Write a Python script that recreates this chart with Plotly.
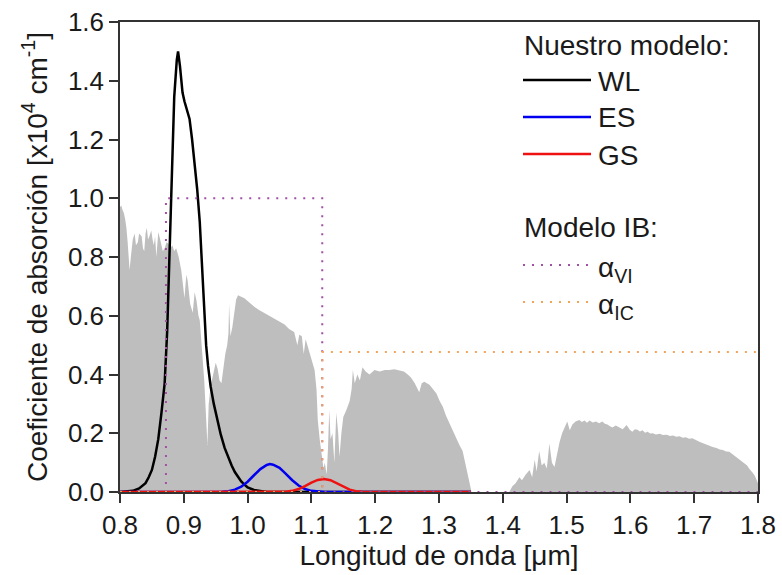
import plotly.graph_objects as go

# ---------------- data ----------------
gray_wl = [0.800, 0.802, 0.804, 0.806, 0.808, 0.810, 0.812, 0.813, 0.815, 0.817, 0.818, 0.820,
           0.823, 0.825, 0.828, 0.830, 0.834, 0.836, 0.838, 0.840, 0.842, 0.844, 0.846, 0.849,
           0.851, 0.853, 0.855, 0.857, 0.860, 0.862, 0.864, 0.867, 0.870, 0.873, 0.876, 0.879,
           0.882, 0.885, 0.888, 0.892, 0.894, 0.896, 0.899, 0.901, 0.904, 0.906, 0.910, 0.914,
           0.917, 0.920, 0.923, 0.925, 0.928, 0.930, 0.932, 0.935, 0.937, 0.939, 0.942, 0.946,
           0.950, 0.953, 0.956, 0.959, 0.962, 0.965, 0.968, 0.970, 0.971, 0.973, 0.976, 0.979,
           0.982, 0.985, 0.990, 0.995, 1.000, 1.005, 1.011, 1.018, 1.026, 1.034, 1.042, 1.050,
           1.058, 1.065, 1.073, 1.078, 1.081, 1.085, 1.088, 1.091, 1.095, 1.100, 1.105, 1.108,
           1.110, 1.113, 1.116, 1.119, 1.121, 1.124, 1.126, 1.128, 1.130, 1.133, 1.136, 1.139,
           1.142, 1.144, 1.147, 1.150, 1.155, 1.160, 1.163, 1.165, 1.168, 1.172, 1.176, 1.180,
           1.185, 1.191, 1.199, 1.207, 1.215, 1.222, 1.230, 1.238, 1.245, 1.251, 1.256, 1.262,
           1.266, 1.269, 1.273, 1.277, 1.285, 1.290, 1.296, 1.301, 1.306, 1.311, 1.316, 1.322,
           1.327, 1.332, 1.337, 1.341, 1.345, 1.349, 1.351, 1.410, 1.415, 1.420, 1.426, 1.430,
           1.436, 1.442, 1.446, 1.450, 1.453, 1.457, 1.461, 1.465, 1.469, 1.473, 1.477, 1.481,
           1.485, 1.489, 1.493, 1.497, 1.501, 1.505, 1.509, 1.514, 1.520, 1.524, 1.528, 1.532,
           1.536, 1.541, 1.546, 1.551, 1.556, 1.560, 1.564, 1.568, 1.572, 1.577, 1.583, 1.588,
           1.594, 1.599, 1.603, 1.607, 1.611, 1.615, 1.619, 1.623, 1.627, 1.631, 1.635, 1.640,
           1.646, 1.651, 1.657, 1.662, 1.667, 1.672, 1.677, 1.682, 1.687, 1.692, 1.697, 1.701,
           1.705, 1.709, 1.713, 1.718, 1.724, 1.729, 1.735, 1.740, 1.745, 1.750, 1.755, 1.759,
           1.763, 1.767, 1.771, 1.775, 1.779, 1.783, 1.786, 1.789, 1.792, 1.795, 1.798, 1.800]
gray_val = [0.970, 0.975, 0.960, 0.950, 0.930, 0.900, 0.850, 0.800, 0.756, 0.800, 0.820, 0.860,
            0.880, 0.840, 0.850, 0.880, 0.870, 0.830, 0.820, 0.880, 0.900, 0.860, 0.870, 0.890,
            0.860, 0.840, 0.870, 0.800, 0.885, 0.860, 0.850, 0.820, 0.830, 0.850, 0.845, 0.830,
            0.840, 0.820, 0.830, 0.800, 0.780, 0.755, 0.700, 0.660, 0.740, 0.720, 0.640, 0.610,
            0.680, 0.650, 0.600, 0.585, 0.500, 0.440, 0.380, 0.250, 0.160, 0.300, 0.360, 0.400,
            0.440, 0.420, 0.380, 0.370, 0.430, 0.470, 0.500, 0.540, 0.640, 0.530, 0.560, 0.600,
            0.655, 0.670, 0.665, 0.660, 0.650, 0.640, 0.630, 0.620, 0.610, 0.600, 0.590, 0.580,
            0.570, 0.555, 0.545, 0.500, 0.535, 0.530, 0.470, 0.520, 0.490, 0.450, 0.415, 0.350,
            0.245, 0.180, 0.130, 0.080, 0.100, 0.060, 0.150, 0.280, 0.180, 0.200, 0.100, 0.270,
            0.200, 0.120, 0.200, 0.255, 0.280, 0.310, 0.350, 0.415, 0.370, 0.400, 0.380, 0.425,
            0.410, 0.400, 0.415, 0.410, 0.415, 0.415, 0.418, 0.415, 0.410, 0.400, 0.390, 0.370,
            0.350, 0.340, 0.370, 0.375, 0.365, 0.350, 0.335, 0.310, 0.290, 0.260, 0.235, 0.210,
            0.180, 0.160, 0.140, 0.100, 0.065, 0.020, 0.000, 0.000, 0.020, 0.030, 0.050, 0.040,
            0.060, 0.075, 0.050, 0.110, 0.070, 0.140, 0.090, 0.100, 0.080, 0.165, 0.100, 0.085,
            0.130, 0.170, 0.200, 0.220, 0.240, 0.210, 0.230, 0.240, 0.245, 0.238, 0.243, 0.236,
            0.243, 0.237, 0.240, 0.234, 0.240, 0.232, 0.230, 0.224, 0.220, 0.226, 0.220, 0.214,
            0.228, 0.212, 0.205, 0.214, 0.212, 0.206, 0.210, 0.202, 0.205, 0.199, 0.200, 0.196,
            0.198, 0.194, 0.195, 0.191, 0.192, 0.188, 0.190, 0.185, 0.186, 0.181, 0.183, 0.178,
            0.175, 0.170, 0.167, 0.162, 0.158, 0.153, 0.150, 0.145, 0.143, 0.138, 0.137, 0.130,
            0.125, 0.118, 0.110, 0.104, 0.095, 0.090, 0.080, 0.074, 0.065, 0.055, 0.040, 0.030]

wl_x = [0.800, 0.810, 0.820, 0.830, 0.840, 0.845, 0.850, 0.855, 0.860, 0.865, 0.870, 0.874,
        0.878, 0.882, 0.885, 0.889, 0.891, 0.894, 0.898, 0.901, 0.905, 0.909, 0.913, 0.917,
        0.921, 0.925, 0.929, 0.932, 0.935, 0.938, 0.942, 0.947, 0.953, 0.958, 0.964, 0.970,
        0.975, 0.980, 0.985, 0.990, 0.995, 1.000, 1.010, 1.020, 1.030, 1.350]
wl_y = [0.000, 0.001, 0.004, 0.012, 0.030, 0.050, 0.075, 0.120, 0.180, 0.270, 0.370, 0.550,
        0.850, 1.120, 1.345, 1.470, 1.500, 1.450, 1.360, 1.330, 1.300, 1.270, 1.200, 1.120,
        1.030, 0.920, 0.760, 0.630, 0.500, 0.430, 0.360, 0.300, 0.240, 0.195, 0.150, 0.115,
        0.090, 0.068, 0.050, 0.036, 0.025, 0.016, 0.007, 0.003, 0.000, 0.000]

es_x = [0.800, 0.950, 0.960, 0.970, 0.980, 0.990, 1.000, 1.010, 1.020, 1.030, 1.035, 1.040,
        1.050, 1.060, 1.070, 1.080, 1.090, 1.100, 1.110, 1.120, 1.350]
es_y = [0.000, 0.000, 0.001, 0.003, 0.008, 0.018, 0.035, 0.057, 0.078, 0.092, 0.095, 0.093,
        0.082, 0.062, 0.040, 0.022, 0.010, 0.004, 0.001, 0.000, 0.000]

gs_x = [0.800, 1.050, 1.060, 1.070, 1.080, 1.090, 1.100, 1.110, 1.120, 1.130, 1.140, 1.150,
        1.160, 1.170, 1.180, 1.200, 1.350]
gs_y = [0.000, 0.000, 0.001, 0.004, 0.010, 0.020, 0.032, 0.041, 0.044, 0.040, 0.030, 0.018,
        0.008, 0.003, 0.001, 0.000, 0.000]

avi_x = [0.800, 0.872, 0.872, 1.117, 1.117, 1.800]
avi_y = [0.000, 0.000, 1.000, 1.000, 0.000, 0.000]

aic_x = [0.800, 1.117, 1.117, 1.800]
aic_y = [0.000, 0.000, 0.477, 0.477]

x_ticks = [0.8, 0.9, 1.0, 1.1, 1.2, 1.3, 1.4, 1.5, 1.6, 1.7, 1.8]
y_ticks = [0.0, 0.2, 0.4, 0.6, 0.8, 1.0, 1.2, 1.4, 1.6]

# ---------------- styles ----------------
FONT = "Liberation Sans, Arial, sans-serif"
TXT = "#1a1a1a"
GRAY = "#bebebe"
C_WL, C_ES, C_GS = "#000000", "#0000ee", "#ee1111"
C_VI, C_IC = "#a24fa8", "#f2a55a"
DOT = "2px,7px"

fig = go.Figure()
fig.add_trace(go.Scatter(x=gray_wl, y=gray_val, mode="lines", fill="tozeroy",
                         fillcolor=GRAY, line=dict(width=0, color=GRAY), showlegend=False))
fig.add_trace(go.Scatter(x=wl_x, y=wl_y, mode="lines", line=dict(color=C_WL, width=2.5),
                         showlegend=False))
fig.add_trace(go.Scatter(x=es_x, y=es_y, mode="lines", line=dict(color=C_ES, width=2.5),
                         showlegend=False))
fig.add_trace(go.Scatter(x=gs_x, y=gs_y, mode="lines", line=dict(color=C_GS, width=2.5),
                         showlegend=False))
fig.add_trace(go.Scatter(x=avi_x, y=avi_y, mode="lines",
                         line=dict(color=C_VI, width=2, dash=DOT), showlegend=False))
fig.add_trace(go.Scatter(x=aic_x, y=aic_y, mode="lines",
                         line=dict(color=C_IC, width=2, dash=DOT), showlegend=False))

# ---------------- manual legend (pixel positions -> paper) ----------------
L, R, T, B = 120, 24, 22, 83
W, H = 782, 575
PW, PH = W - L - R, H - T - B


def px(xp):
    return (xp - L) / PW


def py(yp):
    return (H - B - yp) / PH


legend_lines = [(80, C_WL, 2.5, None, "WL"),
                (117, C_ES, 2.5, None, "ES"),
                (154, C_GS, 2.5, None, "GS"),
                (265, C_VI, 2, DOT, "α<sub>VI</sub>"),
                (302, C_IC, 2, DOT, "α<sub>IC</sub>")]
shapes = []
annotations = []
for yy, col, lw, dash, label in legend_lines:
    ln = dict(color=col, width=lw)
    if dash:
        ln["dash"] = dash
    shapes.append(dict(type="line", xref="paper", yref="paper",
                       x0=px(523), x1=px(591), y0=py(yy), y1=py(yy), line=ln))
    annotations.append(dict(xref="paper", yref="paper", x=px(596), y=py(yy + (4 if dash else 1)),
                            text=label, showarrow=False, xanchor="left", yanchor="middle",
                            font=dict(family=FONT, size=28, color=TXT)))
for yy, label in [(46, "Nuestro modelo:"), (227, "Modelo IB:")]:
    annotations.append(dict(xref="paper", yref="paper", x=px(522), y=py(yy), text=label,
                            showarrow=False, xanchor="left", yanchor="middle",
                            font=dict(family=FONT, size=28, color=TXT)))

axis_common = dict(showline=True, linecolor="#333333", linewidth=1.5, mirror=True,
                   ticks="outside", ticklen=9, tickwidth=1.5, tickcolor="#333333",
                   showgrid=False, zeroline=False,
                   tickfont=dict(family=FONT, size=26, color=TXT))

fig.update_layout(
    width=W, height=H,
    margin=dict(l=L, r=R, t=T, b=B, autoexpand=False),
    paper_bgcolor="white", plot_bgcolor="white",
    font=dict(family=FONT, color=TXT),
    showlegend=False,
    shapes=shapes, annotations=annotations,
    xaxis=dict(range=[0.8, 1.8], tickvals=x_ticks, tickformat=".1f",
               title=dict(text="Longitud de onda [μm]", standoff=6,
                          font=dict(family=FONT, size=28, color=TXT)),
               **axis_common),
    yaxis=dict(range=[0, 1.6], tickvals=y_ticks, tickformat=".1f",
               title=dict(text="Coeficiente de absorción [x10<sup>4</sup> cm<sup>-1</sup>]",
                          standoff=12, font=dict(family=FONT, size=28, color=TXT)),
               **axis_common),
)

fig.write_html("out.html")
